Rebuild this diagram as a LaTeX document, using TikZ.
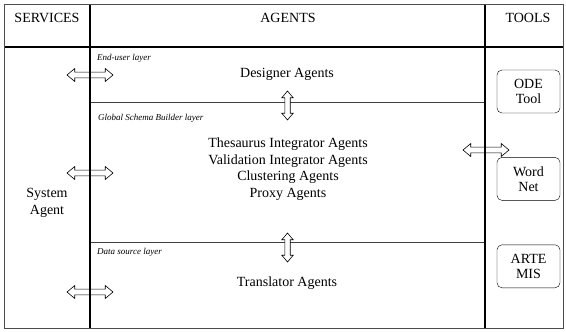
\documentclass[tikz,border=0pt]{standalone}
\usepackage{fontspec}
\setmainfont{Liberation Serif}
\usetikzlibrary{shapes.arrows, positioning, calc}
\tikzset{
	toolbox/.style={draw, rectangle, rounded corners=5pt, minimum width=63pt, minimum height=43pt, align=center, font=\fontsize{14}{15}\selectfont},
	dblarrow/.style={double arrow, draw, line width=0.6pt, fill=white, inner sep=2.6pt, minimum height=46pt, double arrow head extend=3.6pt, double arrow tip angle=80},
	vdblarrow/.style={dblarrow, shape border rotate=90, minimum height=29pt, inner sep=2.4pt, double arrow head extend=3pt}
}

\begin{document}
\begin{tikzpicture}[
	% One unit is one pixel of the page, y grows downwards.
	x=1pt, y=-1pt,
	node distance=44pt
	]
	\tikzset{
		headtext/.style={font=\fontsize{14}{17}\selectfont},
		bodytext/.style={align=center, font=\fontsize{14}{16.5}\selectfont},
		layerlabel/.style={anchor=west, inner sep=0pt, font=\itshape\fontsize{9}{10}\selectfont},
		layerline/.style={draw=black!75, line width=1pt},
		colline/.style={line width=1.5pt}
	}
	\useasboundingbox (0,0) rectangle (566,332);
	
	% === TABLE ===
	\coordinate (nw) at (4,4);
	\coordinate (se) at (563,328);
	\draw[layerline] (90,102) -- (485,102);
	\draw[layerline] (90,242) -- (485,242);
	
	% === HEADERS ===
	\node[headtext] (services) at (47,18) {SERVICES};
	\node[headtext] (agents) at (288,18) {AGENTS};
	\node[headtext] (tools) at (528,18) {TOOLS};
	
	% === LAYERS ===
	\node[layerlabel] (enduser) at (97,58) {End-user layer};
	\node[layerlabel] (global) at (98,118) {Global Schema Builder layer};
	\node[layerlabel] (datasrc) at (97,252) {Data source layer};
	
	\node[bodytext] (designer) at (287,74) {Designer Agents};
	\node[bodytext] (integr) at (288,169) {Thesaurus Integrator Agents\\Validation Integrator Agents\\Clustering Agents\\Proxy Agents};
	\node[bodytext] (translator) at (287,283) {Translator Agents};
	\node[bodytext] (system) at (47,203) {System\\Agent};
	
	% === TOOLS ===
	\node[toolbox] (ode) at (528.5,91.5) {ODE\\Tool};
	\node[toolbox, below=of ode] (wordnet) {Word\\Net};
	\node[toolbox, below=of wordnet] (artemis) {ARTE\\MIS};
	
	% === ARROWS ===
	\node[dblarrow] (svc1) at (90,75) {};
	\node[dblarrow] (svc2) at (90,173) {};
	\node[dblarrow] (svc3) at (90,292) {};
	\node[dblarrow] (tool1) at (486,150) {};
	\node[vdblarrow] (lay1) at (287.5,105.5) {};
	\node[vdblarrow] (lay2) at (287.5,247.5) {};
	
	% === FRAME ===
	\draw[colline] (90,4) -- (90,328);
	\draw[colline] (485,4) -- (485,328);
	\draw[line width=1.2pt] (4,47) -- (563,47);
	\draw[black!70] (nw) rectangle (se);
\end{tikzpicture}
\end{document}
